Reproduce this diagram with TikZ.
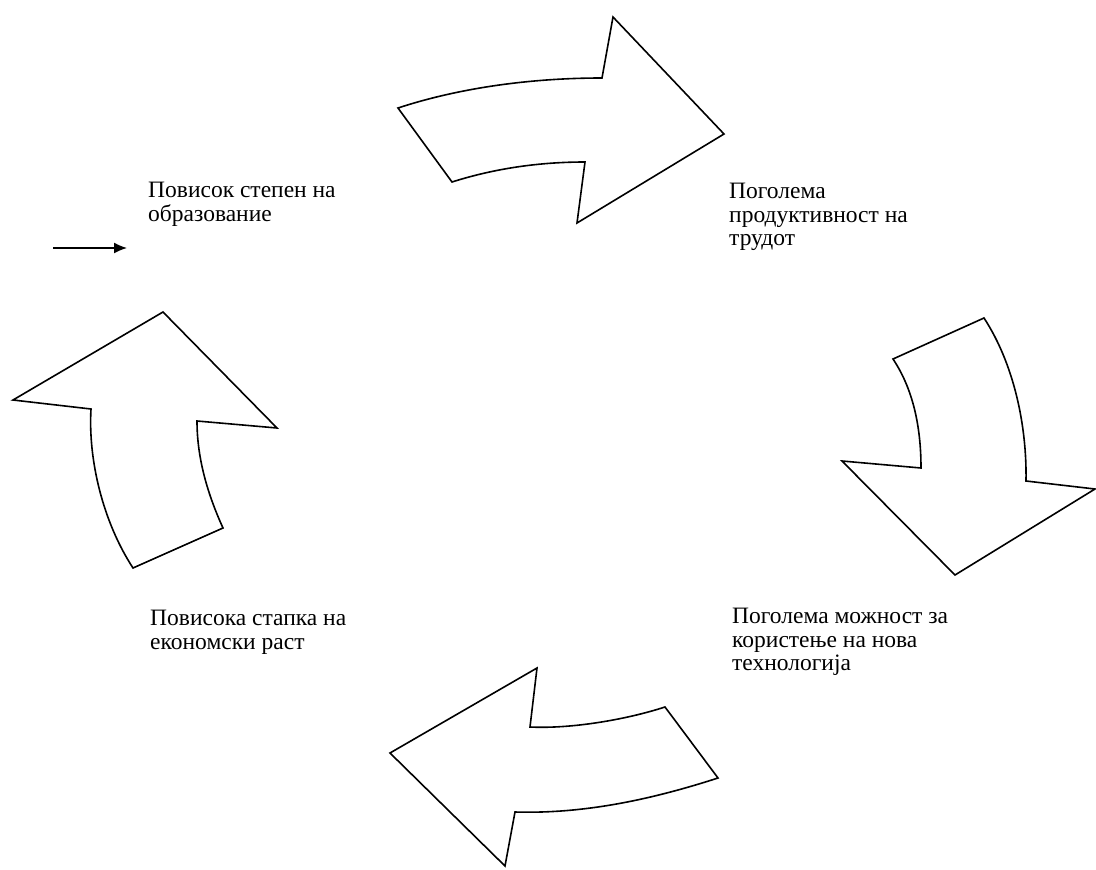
\documentclass[tikz,border=0pt]{standalone}
\usepackage{fontspec}
\setmainfont{Liberation Serif}
\usepackage{tikz}
\usetikzlibrary{arrows.meta}

\tikzset{
  bigarrow/.style={draw=black, fill=white, line width=1.6pt, line join=miter},
  txt/.style={anchor=north west, align=left, inner sep=0pt,
    font=\fontsize{23.5}{23.5}\selectfont},
}

\begin{document}
\begin{tikzpicture}[x=1pt, y=-1pt]
                \useasboundingbox (0,0) rectangle (1096,870);

                % top arrow
                \draw[bigarrow] (398,108) .. controls (462,87) and (534,78) .. (602,78) -- (613,17)
                    -- (724,134) -- (577,223) -- (585,162) .. controls (541,162) and (496,168) .. (452,182) -- cycle;
                % right arrow
                \draw[bigarrow] (984,318) -- (893,359) .. controls (915,392) and (921,432) .. (921,468)
                    -- (842,461) -- (955,575) -- (1095,489) -- (1026,481)
                    .. controls (1027,426) and (1014,364) .. (984,318) -- cycle;
                % bottom arrow
                \draw[bigarrow] (665,707) .. controls (625,720) and (570,729) .. (530,727) -- (537,668)
                    -- (390,753) -- (505,866) -- (515,812) .. controls (583,814) and (650,800) .. (718,778) -- cycle;
                % left arrow
                \draw[bigarrow] (163,312) -- (277,428) -- (197,421) .. controls (197,459) and (208,495) .. (223,528)
                    -- (133,568) .. controls (103,522) and (88,460) .. (91,409) -- (13,400) -- cycle;

                \node[txt] (edu) at (148,182) {Повисок степен на\\образование};
                \node[txt] (prod) at (729,183) {Поголема\\продуктивност на\\трудот};
                \node[txt] (tech) at (732,608) {Поголема можност за\\користење на нова\\технологија};
                \node[txt] (growth) at (150,610) {Повисока стапка на\\економски раст};

                \coordinate (in1) at (53,248);
                \coordinate (in2) at (127,248);
                \draw[line width=1.4pt, -{Latex[length=13pt, width=11pt]}] (in1) -- (in2);
            \end{tikzpicture}
\end{document}
